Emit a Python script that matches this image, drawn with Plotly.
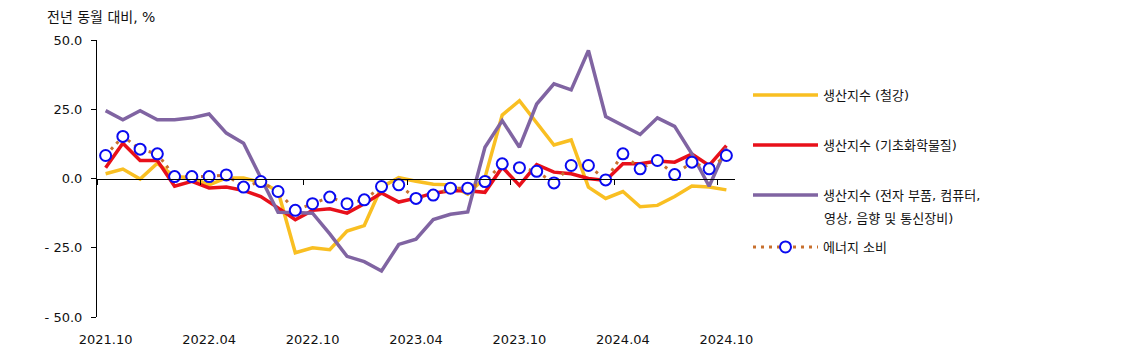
import plotly.graph_objects as go

# ---- data (year-over-year %, monthly 2021.10 .. 2024.10) ----
tick_labels = ["2021.10", "2022.04", "2022.10", "2023.04", "2023.10", "2024.04", "2024.10"]

steel = [1.7, 3.4, -0.2, 5.5, 0.7, 0.3, -2.3, 0.2, 0.2, -1.3,
         -4.6, -26.8, -25.0, -25.7, -19.0, -17.0, -3.1, 0.3, -1.0, -2.1,
         -2.3, -5.6, 0.3, 22.9, 28.1, 20.3, 12.1, 13.9, -3.1, -7.2,
         -4.7, -10.2, -9.7, -6.5, -2.7, -3.1, -4.1]

chemicals = [3.9, 12.7, 6.5, 6.5, -2.8, -1.0, -3.4, -3.1, -4.3, -6.5,
             -10.6, -14.9, -11.5, -10.9, -12.5, -9.1, -5.2, -8.5, -7.1, -5.3,
             -4.4, -4.4, -5.0, 4.1, -2.5, 5.0, 2.3, 1.7, 0.0, -0.7,
             5.3, 5.3, 6.3, 5.9, 8.8, 4.7, 11.9]

electronics = [24.5, 21.2, 24.5, 21.2, 21.2, 21.9, 23.3, 16.4, 12.7, 0.0,
               -12.2, -12.3, -12.5, -20.0, -28.1, -30.0, -33.4, -23.8, -21.9, -14.8,
               -12.9, -12.1, 11.3, 20.9, 11.3, 26.9, 34.2, 32.0, 46.2, 22.4,
               19.1, 15.9, 21.9, 18.8, 8.9, -2.8, 11.0]

energy = [8.3, 15.2, 10.6, 8.9, 0.7, 0.7, 0.7, 1.3, -3.1, -1.1,
          -4.7, -11.5, -9.1, -6.7, -9.1, -7.7, -2.9, -2.3, -7.2, -6.0,
          -3.5, -3.5, -1.1, 5.3, 3.9, 2.6, -1.6, 4.7, 4.7, -0.5,
          8.9, 3.5, 6.5, 1.4, 5.9, 3.5, 8.3]

y_ticks = [50, 25, 0, -25, -50]
y_tick_text = ["50.0", "25.0", "0.0", "- 25.0", "- 50.0"]

names = ["생산지수 (철강)", "생산지수 (기초화학물질)", "생산지수 (전자 부품, 컴퓨터,", "에너지 소비"]
purple_second_line = "영상, 음향 및 통신장비)"
title_text = "전년 동월 대비, %"

# ---- style ----
FONT = "DejaVu Sans, Noto Sans CJK KR, sans-serif"
C_YELLOW = "#F9BF22"
C_RED = "#E8101A"
C_PURPLE = "#8064A2"
C_BROWN = "#C8702E"
C_BLUE = "#0A0AF0"

x = list(range(len(steel)))
n = len(x)
label_pos = list(range(0, n, 6))
boundary_ticks = [p - 0.5 for p in range(0, n, 6)]

fig = go.Figure()
fig.add_trace(go.Scatter(x=x, y=steel, mode="lines", name=names[0],
                         line=dict(color=C_YELLOW, width=3.5), legend="legend2"))
fig.add_trace(go.Scatter(x=x, y=chemicals, mode="lines", name=names[1],
                         line=dict(color=C_RED, width=3.5), legend="legend3"))
fig.add_trace(go.Scatter(x=x, y=electronics, mode="lines", name=names[2],
                         line=dict(color=C_PURPLE, width=3.5), legend="legend4"))
fig.add_trace(go.Scatter(x=x, y=energy, mode="lines+markers", name=names[3],
                         line=dict(color=C_BROWN, width=3, dash="3px,5px"),
                         marker=dict(symbol="circle", size=11, color="white",
                                     line=dict(color=C_BLUE, width=2)),
                         legend="legend5"))
# helper for the zero-crossing category axis
fig.add_trace(go.Scatter(x=[], y=[], xaxis="x2", showlegend=False, hoverinfo="skip"))

W, H = 1122, 351
L, R, T, B = 97, 387, 40, 34
pw = W - L - R
ph = H - T - B


def px_x(p):
    return (p - L) / pw


def px_y(p):
    return (H - B - p) / ph


leg_common = dict(xanchor="left", yanchor="middle", bgcolor="rgba(0,0,0,0)",
                  borderwidth=0, itemwidth=65,
                  font=dict(family=FONT, size=13, color="#111111"))

fig.update_layout(
    width=W, height=H,
    margin=dict(l=L, r=R, t=T, b=B, pad=0, autoexpand=False),
    paper_bgcolor="white", plot_bgcolor="white",
    font=dict(family=FONT, size=13, color="#111111"),
    showlegend=True,
    xaxis=dict(range=[-0.5, n - 0.5], tickmode="array", tickvals=label_pos,
               ticktext=tick_labels, showline=False, ticks="", showgrid=False,
               zeroline=False, ticklabelstandoff=13, automargin=False,
               tickfont=dict(family=FONT, size=13, color="#111111")),
    xaxis2=dict(range=[-0.5, n - 0.5], overlaying="x", anchor="free", position=0.5,
                side="bottom", showline=True, linecolor="black", linewidth=1,
                ticks="outside", ticklen=5, tickcolor="black", tickwidth=1,
                tickmode="array", tickvals=boundary_ticks, showticklabels=False,
                showgrid=False, zeroline=False, automargin=False),
    yaxis=dict(range=[-50, 50], tickmode="array", tickvals=y_ticks, ticktext=y_tick_text,
               showline=True, linecolor="black", linewidth=1, ticks="outside",
               ticklen=5, tickcolor="black", showgrid=False, zeroline=False,
               ticklabelstandoff=6, automargin=False,
               tickfont=dict(family=FONT, size=13, color="#111111")),
    legend2=dict(x=px_x(748), y=px_y(95), **leg_common),
    legend3=dict(x=px_x(748), y=px_y(145), **leg_common),
    legend4=dict(x=px_x(748), y=px_y(195), **leg_common),
    legend5=dict(x=px_x(748), y=px_y(247), **leg_common),
    annotations=[
        dict(text=title_text, xref="paper", yref="paper", x=px_x(45), y=px_y(17),
             xanchor="left", yanchor="middle", showarrow=False,
             font=dict(family=FONT, size=14, color="#111111")),
        dict(text=purple_second_line, xref="paper", yref="paper", x=px_x(822), y=px_y(218),
             xanchor="left", yanchor="middle", showarrow=False,
             font=dict(family=FONT, size=13, color="#111111")),
    ],
)

fig.write_html("out.html")
